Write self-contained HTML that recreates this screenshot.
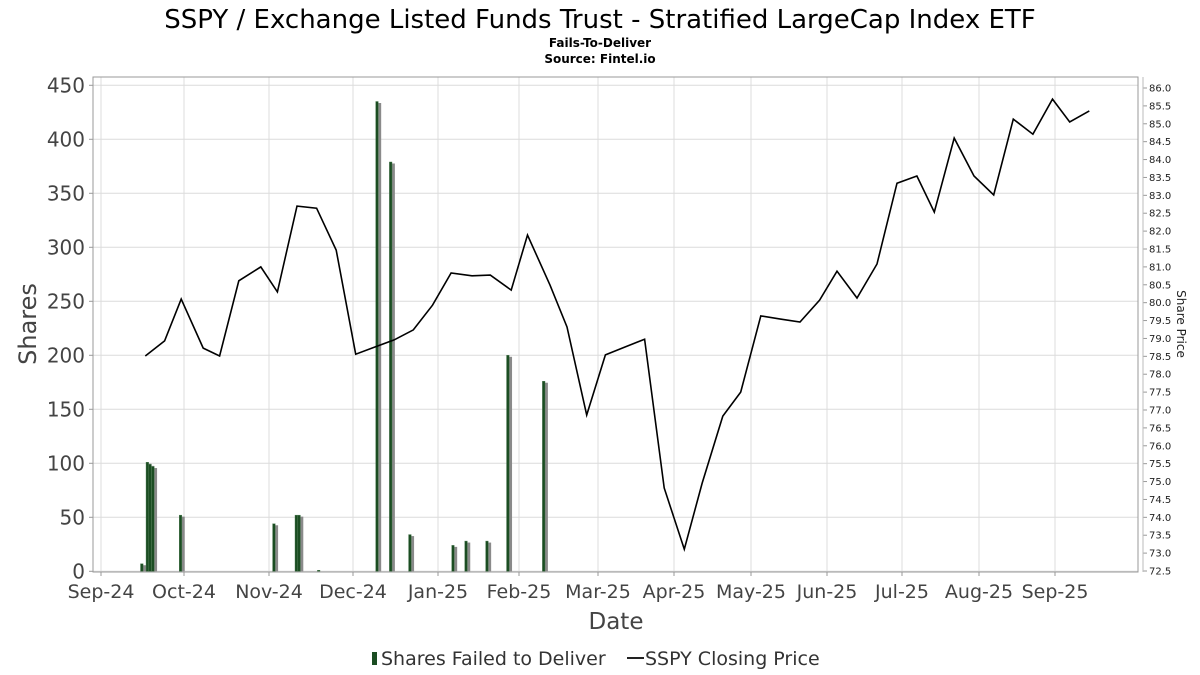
<!DOCTYPE html>
<html><head><meta charset="utf-8"><style>
html,body{margin:0;padding:0;background:#fff;}
svg{display:block;font-family:"DejaVu Sans","Liberation Sans",sans-serif;}
</style></head><body>
<svg id="chart" width="1200" height="675" viewBox="0 0 1200 675" xmlns="http://www.w3.org/2000/svg">
<text x="600" y="28" text-anchor="middle" font-size="26" fill="#000">SSPY / Exchange Listed Funds Trust - Stratified LargeCap Index ETF</text>
<text x="600" y="47" text-anchor="middle" font-size="12" font-weight="bold" fill="#000">Fails-To-Deliver</text>
<text x="600" y="63" text-anchor="middle" font-size="12" font-weight="bold" fill="#000">Source: Fintel.io</text>
<g id="grid"></g>
<g id="bars"></g>
<g id="line"></g>
<g id="axes"></g>
<text x="0" y="0" transform="translate(36,324) rotate(-90)" text-anchor="middle" font-size="24" fill="#444">Shares</text>
<text x="0" y="0" transform="translate(1177,324) rotate(90)" text-anchor="middle" font-size="12" fill="#222">Share Price</text>
<text x="616" y="629" text-anchor="middle" font-size="23" fill="#444">Date</text>
<g>
<rect x="372" y="652" width="5" height="13" fill="#1b4d22"/>
<text x="381" y="665" font-size="19" fill="#333">Shares Failed to Deliver</text>
<line x1="627" y1="658" x2="644" y2="658" stroke="#222" stroke-width="2"/>
<text x="645" y="665" font-size="19" fill="#333">SSPY Closing Price</text>
</g>
</svg>
<script>
const monthTicks = ["2024-09-01","2024-10-01","2024-11-01","2024-12-01","2025-01-01","2025-02-01","2025-03-01","2025-04-01","2025-05-01","2025-06-01","2025-07-01","2025-08-01","2025-09-01"];
const monthLabels = ["Sep-24","Oct-24","Nov-24","Dec-24","Jan-25","Feb-25","Mar-25","Apr-25","May-25","Jun-25","Jul-25","Aug-25","Sep-25"];
const shareTicks = [0,50,100,150,200,250,300,350,400,450];
const priceTicks = [72.5,73,73.5,74,74.5,75,75.5,76,76.5,77,77.5,78,78.5,79,79.5,80,80.5,81,81.5,82,82.5,83,83.5,84,84.5,85,85.5,86];
const barDates = ["2024-09-16","2024-09-18","2024-09-19","2024-09-20","2024-09-30","2024-11-03","2024-11-11","2024-11-12","2024-11-19","2024-12-10","2024-12-15","2024-12-22","2025-01-07","2025-01-12","2025-01-20","2025-01-28","2025-02-10"];
const barValues = [7,101,99,97,52,44,52,52,1,435,379,34,24,28,28,200,176];
const priceDates = ["2024-09-17","2024-09-24","2024-09-30","2024-10-08","2024-10-14","2024-10-21","2024-10-29","2024-11-04","2024-11-11","2024-11-18","2024-11-25","2024-12-02","2024-12-09","2024-12-16","2024-12-23","2024-12-30","2025-01-06","2025-01-14","2025-01-21","2025-01-29","2025-02-04","2025-02-12","2025-02-18","2025-02-25","2025-03-04","2025-03-12","2025-03-20","2025-03-28","2025-04-05","2025-04-12","2025-04-20","2025-04-27","2025-05-05","2025-05-13","2025-05-21","2025-05-29","2025-06-05","2025-06-13","2025-06-21","2025-06-29","2025-07-07","2025-07-14","2025-07-22","2025-07-30","2025-08-07","2025-08-15","2025-08-23","2025-08-31","2025-09-07","2025-09-15"];
const priceValues = [78.51,78.93,80.10,78.73,78.51,80.61,81.0,80.30,82.70,82.64,81.47,78.56,78.76,78.96,79.24,79.93,80.83,80.75,80.77,80.35,81.89,80.49,79.32,76.86,78.54,78.76,78.98,74.82,73.11,74.96,76.83,77.50,79.63,79.54,79.46,80.07,80.88,80.13,81.08,83.34,83.54,82.53,84.60,83.54,83.01,85.13,84.71,85.69,85.05,85.36];

const NS="http://www.w3.org/2000/svg";
const L=93,R=1138,T=77,B=572;
// tick screen positions of month starts (axis layout)
const tickPx=[101,184,269,353,438,519,598,674,751,827,902,979,1055];
function dnum(s){return Date.parse(s+"T00:00:00Z")/86400000;}
const tickDays=monthTicks.map(dnum);
function xScale(s){const d=dnum(s);
  let i=0; while(i<tickDays.length-2 && d>tickDays[i+1]) i++;
  return tickPx[i]+(d-tickDays[i])*(tickPx[i+1]-tickPx[i])/(tickDays[i+1]-tickDays[i]);}
const y0=571.3,yTop=85.3;
function yL(v){return y0-(v/450)*(y0-yTop);}
const p0=571,p1=88;
function yR(v){return p0-(v-72.5)/(86-72.5)*(p0-p1);}
function mk(tag,attrs,parent){const e=document.createElementNS(NS,tag);for(const k in attrs)e.setAttribute(k,attrs[k]);parent.appendChild(e);return e;}
const grid=document.getElementById('grid'),axes=document.getElementById('axes'),bars=document.getElementById('bars'),line=document.getElementById('line');
mk('rect',{x:L,y:T,width:R-L,height:B-T,fill:'#fff',stroke:'none'},grid);
shareTicks.forEach(v=>{const y=yL(v);
  const g=mk('line',{x1:L,x2:R,y1:y,y2:y,stroke:'#dcdcdc','stroke-width':1},grid);
  
  
  const t=mk('line',{x1:L-4,x2:L,y1:y,y2:y,stroke:'#999'},axes);
  
  
  const tx=mk('text',{x:L-8,y:y+7,'text-anchor':'end','font-size':20,fill:'#444'},axes);
  tx.textContent=v;
  
  
});
monthTicks.forEach((m,i)=>{const x=xScale(m);
  const g=mk('line',{x1:x,x2:x,y1:T,y2:B,stroke:'#dcdcdc','stroke-width':1},grid);
  
  
  const t=mk('line',{x1:x,x2:x,y1:B,y2:B+4,stroke:'#999'},axes);
  
  
  const tx=mk('text',{x:x,y:B+26,'text-anchor':'middle','font-size':19,fill:'#444'},axes);
  tx.textContent=monthLabels[i];
  
  
});
priceTicks.forEach(v=>{const y=yR(v);
  const t=mk('line',{x1:1143,x2:1147,y1:y,y2:y,stroke:'#999'},axes);
  
  
  const tx=mk('text',{x:1149,y:y+3.5,'font-size':10,fill:'#222'},axes);
  tx.textContent=v.toFixed(1);
  
  
});
const frame=mk('rect',{x:L,y:T,width:R-L,height:B-T,fill:'none',stroke:'#999','stroke-width':1},axes);


const ra=mk('line',{x1:1143,x2:1143,y1:T,y2:B,stroke:'#bbb'},axes);


barDates.forEach((d,i)=>{const x=xScale(d),y=yL(barValues[i]);
  const s=mk('rect',{x:x+0.5,y:y+1.5,width:3,height:Math.max(0,y0-y-1.5),fill:'#8a8a8a'},bars);
  
  
  const b=mk('rect',{x:x-2,y:y,width:2.6,height:y0-y,fill:'#1b4d22',stroke:'#4a7a50','stroke-width':0.4},bars);
  
  
});
const pts=priceDates.map((d,i)=>xScale(d).toFixed(1)+','+yR(priceValues[i]).toFixed(1)).join(' ');
const pl=mk('polyline',{points:pts,fill:'none',stroke:'#000','stroke-width':1.6,'stroke-linejoin':'miter'},line);


</script>
</body></html>
